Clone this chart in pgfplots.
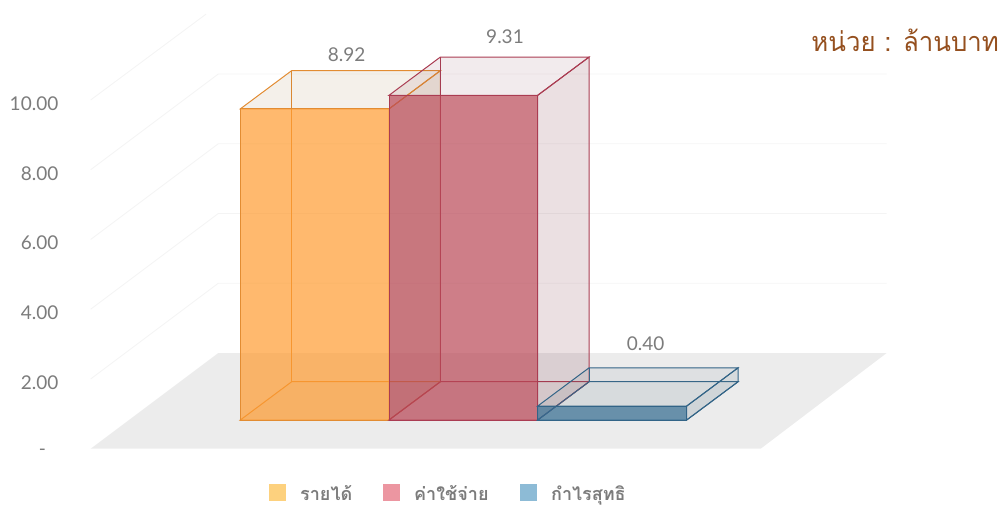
\documentclass[border=0pt]{standalone}
\usepackage{fontspec}
\usepackage{pgfplots}
\pgfplotsset{compat=1.18}
\setmainfont{Lato}
\newfontfamily\thaifont[Script=Thai]{Loma}
\newfontfamily\titlefont[Script=Thai,FakeStretch=0.955]{Loma}

\definecolor{labelgray}{HTML}{7C7C7C}
\definecolor{titlebrown}{HTML}{95501F}
\definecolor{floorgray}{HTML}{ECECEC}
\definecolor{gridgray}{HTML}{F4F4F4}
\definecolor{orangefill}{RGB}{255,155,48}
\definecolor{orangeline}{RGB}{226,140,50}
\definecolor{orangeside}{RGB}{150,110,50}
\definecolor{redfill}{RGB}{185,71,86}
\definecolor{redline}{RGB}{170,60,82}
\definecolor{redside}{RGB}{130,60,75}
\definecolor{bluefill}{RGB}{52,108,145}
\definecolor{blueline}{RGB}{50,100,135}
\definecolor{blueside}{RGB}{100,125,140}

% oblique box: x left, x right, bar value, fill, line, side colour
\newcommand{\boxbar}[6]{%
  \pgfmathsetmacro{\ya}{0.823}%
  \pgfmathsetmacro{\yb}{0.823+#3}%
  \pgfmathsetmacro{\yc}{0.823+1.098}%
  \pgfmathsetmacro{\yd}{0.823+1.098+#3}%
  \pgfmathsetmacro{\xc}{#1+51.4}%
  \pgfmathsetmacro{\xd}{#2+51.4}%
  % floor and back of the box
  \addplot[forget plot,draw=#5,line width=1pt,fill=#6,fill opacity=0.05]
    coordinates {(#1,\ya) (#2,\ya) (\xd,\yc) (\xc,\yc)} --cycle;
  \addplot[forget plot,draw=#5,line width=1pt]
    coordinates {(\xc,\yc) (\xc,\yd)};
  % right side and top
  \addplot[forget plot,draw=#5,line width=1pt,fill=#6,fill opacity=0.16]
    coordinates {(#2,\ya) (\xd,\yc) (\xd,\yd) (#2,\yb)} --cycle;
  \addplot[forget plot,draw=#5,line width=1pt,fill=#6,fill opacity=0.1]
    coordinates {(#1,\yb) (#2,\yb) (\xd,\yd) (\xc,\yd)} --cycle;
  % front
  \addplot[forget plot,draw=#5,line width=1pt,fill=#4,fill opacity=0.7]
    coordinates {(#1,\ya) (#2,\ya) (#2,\yb) (#1,\yb)} --cycle;
}

\pgfplotsset{
  legsq/.style={legend image code/.code={%
    \fill[##1,draw=none] (0pt,-8.5pt) rectangle (17pt,8.5pt);}},
}

\begin{document}
\begin{tikzpicture}
\begin{axis}[
  width=1006pt, height=512pt,
  scale only axis,
  xmin=0, xmax=1006,
  ymin=-1.815, ymax=12.866,
  axis line style={draw=none},
  xtick=\empty,
  ytick={0,2,4,6,8,10},
  yticklabels={\makebox[19.5pt][l]{\raisebox{-3pt}{-}},2.00,4.00,6.00,8.00,10.00},
  ytick style={draw=none},
  major tick length=0pt,
  every y tick label/.append style={anchor=east,inner sep=0pt,xshift=58.5pt,yshift=-3.5pt,
    text=labelgray,font=\fontsize{19}{22}\selectfont},
  legend columns=3,
  legend cell align=left,
  legend style={at={(axis cs:269,-1.256)},anchor=west,draw=none,fill=none,inner sep=0pt,
    font=\thaifont\bfseries\fontsize{18}{20}\selectfont,text=labelgray,
    nodes={inner sep=0pt},
    /tikz/every even column/.style={column sep=14pt}},
]
  % floor
  \addplot[forget plot,draw=none,fill=floorgray]
    coordinates {(90.7,0) (760.7,0) (886.7,2.744) (218.3,2.744)} --cycle;
  % grid lines on the side wall and the back wall
  \addplot[forget plot,gridgray,line width=0.9pt] coordinates {(90.7,2) (218.3,4.744) (886.7,4.744)};
  \addplot[forget plot,gridgray,line width=0.9pt] coordinates {(90.7,4) (218.3,6.744) (886.7,6.744)};
  \addplot[forget plot,gridgray,line width=0.9pt] coordinates {(90.7,6) (218.3,8.744) (886.7,8.744)};
  \addplot[forget plot,gridgray,line width=0.9pt] coordinates {(90.7,8) (218.3,10.744) (886.7,10.744)};
  \addplot[forget plot,gridgray,line width=0.9pt] coordinates {(90.7,10) (206,12.46)};

  \boxbar{240.3}{389}{8.92}{orangefill}{orangeline}{orangeside}
  \boxbar{389}{537.7}{9.31}{redfill}{redline}{redside}
  \boxbar{537.7}{686.7}{0.40}{bluefill}{blueline}{blueside}

  % value labels
  \addplot[forget plot,draw=none,mark=none,
    point meta=explicit symbolic,
    nodes near coords,
    every node near coord/.style={anchor=center,inner sep=0pt,text=labelgray,
      font=\fontsize{19}{22}\selectfont}]
    coordinates {(346.6,11.31)[8.92] (505,11.81)[9.31] (645.7,3.0)[0.40]};

  \node[anchor=east,inner sep=0pt,text=titlebrown,font=\titlefont\fontsize{27}{32}\selectfont]
    at (axis cs:999,11.70) {หน่วย : ล้านบาท};

  \addlegendimage{legsq,fill={rgb,255:red,253;green,209;blue,126}}
  \addlegendentry{\makebox[83pt][l]{\hspace{14pt}\raisebox{-2.5pt}{รายได้}}}
  \addlegendimage{legsq,fill={rgb,255:red,236;green,150;blue,161}}
  \addlegendentry{\makebox[106pt][l]{\hspace{14pt}\raisebox{-2.5pt}{ค่าใช้จ่าย}}}
  \addlegendimage{legsq,fill={rgb,255:red,141;green,187;blue,214}}
  \addlegendentry{\makebox[95pt][l]{\hspace{14pt}\raisebox{-2.5pt}{กำไรสุทธิ}}}
\end{axis}
\end{tikzpicture}
\end{document}
